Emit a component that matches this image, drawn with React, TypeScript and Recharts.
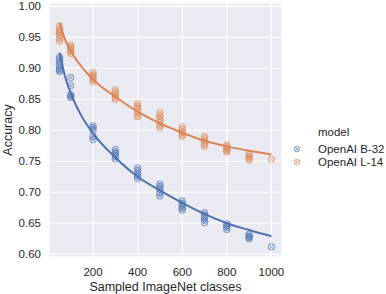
import {
  CartesianGrid,
  ComposedChart,
  Line,
  Scatter,
  XAxis,
  YAxis,
} from "recharts";

const CLASS_COUNTS = [50, 100, 200, 300, 400, 500, 600, 700, 800, 900, 1000];

// accuracy of each sampled run, one row per class count
const B32_RUNS = [
  [0.918, 0.914, 0.91, 0.905, 0.9, 0.897, 0.895],
  [0.885, 0.872, 0.857, 0.855, 0.853],
  [0.807, 0.804, 0.8, 0.79, 0.785],
  [0.769, 0.765, 0.762, 0.758, 0.754],
  [0.739, 0.735, 0.73, 0.726, 0.722],
  [0.713, 0.709, 0.705, 0.699, 0.694],
  [0.686, 0.682, 0.678, 0.674, 0.671],
  [0.667, 0.663, 0.659, 0.655, 0.651],
  [0.649, 0.646, 0.643, 0.64],
  [0.632, 0.629, 0.627, 0.625],
  [0.612],
];

const L14_RUNS = [
  [0.968, 0.963, 0.96, 0.957, 0.953, 0.948, 0.944],
  [0.937, 0.934, 0.93, 0.927, 0.924],
  [0.893, 0.889, 0.886, 0.882, 0.878],
  [0.865, 0.861, 0.857, 0.853, 0.85],
  [0.843, 0.839, 0.835, 0.83, 0.825, 0.822],
  [0.828, 0.823, 0.818, 0.813, 0.808, 0.804],
  [0.805, 0.801, 0.797, 0.793, 0.79],
  [0.79, 0.786, 0.781, 0.777, 0.774],
  [0.776, 0.773, 0.77, 0.767, 0.765],
  [0.761, 0.758, 0.755, 0.752],
  [0.753],
];

// fitted curves
const FIT_X = [50, 75, 100, 150, 200, 300, 400, 500, 600, 700, 800, 900, 1000];
const B32_FIT = [0.925, 0.886, 0.86, 0.822, 0.795, 0.756, 0.725, 0.703, 0.683, 0.665, 0.65, 0.639, 0.629];
const L14_FIT = [0.973, 0.946, 0.928, 0.902, 0.882, 0.854, 0.83, 0.811, 0.796, 0.783, 0.774, 0.767, 0.761];

const Y_TICKS = [0.6, 0.65, 0.7, 0.75, 0.8, 0.85, 0.9, 0.95, 1.0];
const X_TICKS = [200, 400, 600, 800, 1000];

const BLUE = "#4C72B0";
const ORANGE = "#DD8452";
const TEXT = "#262626";
const FONT = "'Liberation Sans', Arial, sans-serif";

const toPoints = (runs: number[][]) =>
  runs.flatMap((row, i) => row.map((acc) => ({ x: CLASS_COUNTS[i], y: acc })));

const toFit = (vals: number[]) => FIT_X.map((x, i) => ({ x, y: vals[i] }));

function Otimes({ cx, cy, color, r = 3.3 }: { cx: number; cy: number; color: string; r?: number }) {
  const d = r * 0.7;
  return (
    <g opacity={0.7}>
      <circle cx={cx} cy={cy} r={r} fill={color} fillOpacity={0.15} stroke={color} strokeWidth={0.9} />
      <line x1={cx - d} y1={cy - d} x2={cx + d} y2={cy + d} stroke={color} strokeWidth={0.8} />
      <line x1={cx - d} y1={cy + d} x2={cx + d} y2={cy - d} stroke={color} strokeWidth={0.8} />
    </g>
  );
}

function LegendBox() {
  const row = (label: string, color: string, top: number) => (
    <div style={{ position: "absolute", left: 0, top, height: 14 }}>
      <svg width={14} height={14} style={{ position: "absolute", left: 0, top: 0 }}>
        <Otimes cx={7} cy={7} color={color} r={2.8} />
      </svg>
      <span style={{ position: "absolute", left: 28, top: 0, lineHeight: "14px" }}>{label}</span>
    </div>
  );
  return (
    <div
      style={{
        position: "absolute",
        left: 290,
        top: 125,
        width: 96,
        height: 48,
        fontFamily: FONT,
        fontSize: 11.5,
        color: TEXT,
        whiteSpace: "nowrap",
      }}
    >
      <div style={{ position: "absolute", left: 28, top: 0, lineHeight: "14px" }}>model</div>
      {row("OpenAI B-32", BLUE, 17)}
      {row("OpenAI L-14", ORANGE, 30)}
    </div>
  );
}

function YTitle(props: any) {
  const vb = props.viewBox;
  const x = vb.x + 8;
  const y = vb.y + vb.height / 2;
  return (
    <text
      x={x}
      y={y}
      transform={`rotate(-90 ${x} ${y})`}
      textAnchor="middle"
      dominantBaseline="central"
      fontSize={12.5}
      fill={TEXT}
    >
      Accuracy
    </text>
  );
}

export default function App() {
  return (
    <div style={{ position: "absolute", left: 0, top: 0, width: 386, height: 294 }}>
      <ComposedChart
        width={386}
        height={294}
        margin={{ top: 3, right: 104, bottom: 0, left: 0 }}
        style={{ fontFamily: FONT }}
      >
        <CartesianGrid fill="#EAEAF2" stroke="#FFFFFF" strokeWidth={1.2} />
        <XAxis
          type="number"
          dataKey="x"
          domain={[2.5, 1047.5]}
          ticks={X_TICKS}
          height={37}
          axisLine={false}
          tickLine={false}
          tickMargin={5}
          tick={{ fontSize: 11.5, fill: TEXT }}
          label={{
            value: "Sampled ImageNet classes",
            position: "insideBottom",
            offset: 3,
            fontSize: 12.5,
            fill: TEXT,
          }}
        />
        <YAxis
          type="number"
          dataKey="y"
          domain={[0.5955, 1.0053]}
          ticks={Y_TICKS}
          width={49}
          axisLine={false}
          tickLine={false}
          tick={{ fontSize: 11.5, fill: TEXT }}
          tickFormatter={(v: number) => v.toFixed(2)}
          label={{ content: YTitle }}
        />
        <Scatter
          data={toPoints(B32_RUNS)}
          isAnimationActive={false}
          shape={(p: any) => <Otimes cx={p.cx} cy={p.cy} color={BLUE} />}
        />
        <Scatter
          data={toPoints(L14_RUNS)}
          isAnimationActive={false}
          shape={(p: any) => <Otimes cx={p.cx} cy={p.cy} color={ORANGE} />}
        />
        <Line
          data={toFit(B32_FIT)}
          dataKey="y"
          type="monotone"
          stroke={BLUE}
          strokeWidth={2}
          dot={false}
          isAnimationActive={false}
        />
        <Line
          data={toFit(L14_FIT)}
          dataKey="y"
          type="monotone"
          stroke={ORANGE}
          strokeWidth={2}
          dot={false}
          isAnimationActive={false}
        />
      </ComposedChart>
      <LegendBox />
    </div>
  );
}
